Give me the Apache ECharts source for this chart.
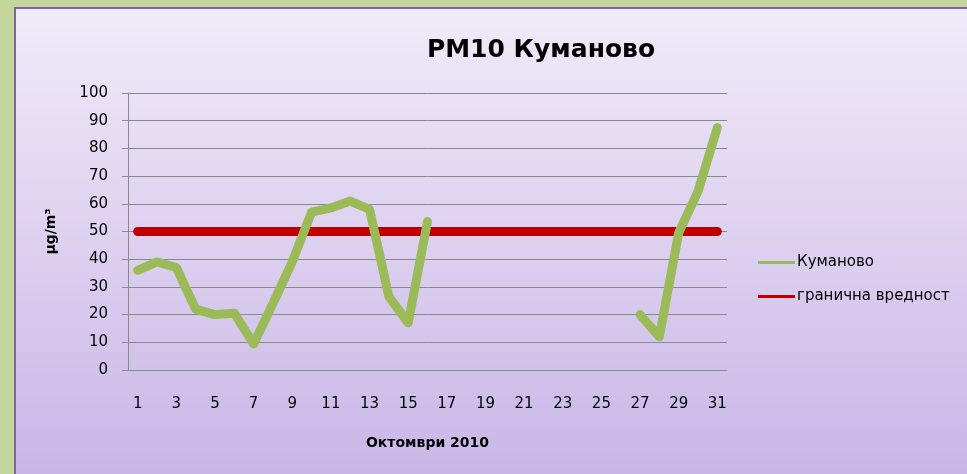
<!DOCTYPE html>
<html>
<head>
<meta charset="utf-8">
<script src="https://cdn.jsdelivr.net/npm/echarts@6/dist/echarts.min.js"></script>
<style>
  html, body { margin: 0; padding: 0; }
  #chart { width: 967px; height: 474px; }
</style>
</head>
<body>
<div id="chart"></div>
<script>
const days = ['1', '2', '3', '4', '5', '6', '7', '8', '9', '10', '11', '12', '13', '14', '15', '16',
  '17', '18', '19', '20', '21', '22', '23', '24', '25', '26', '27', '28', '29', '30', '31']
// Куманово PM10, days 17-26 have no measurements
const kumanovo = [36, 39, 37, 22, 20, 20.5, 9.4, 24, 39, 57, 58.5, 61, 58, 26.5, 17, 53.6,
  null, null, null, null, null, null, null, null, null, null,
  20, 12, 49.5, 64.5, 87.5]
const limitValue = [50, 50, 50, 50, 50, 50, 50, 50, 50, 50, 50, 50, 50, 50, 50, 50,
  50, 50, 50, 50, 50, 50, 50, 50, 50, 50, 50, 50, 50, 50, 50]

const font = 'DejaVu Sans'
const chart = echarts.init(document.getElementById('chart'))

chart.setOption({
  backgroundColor: '#C3D69B',
  textStyle: { fontFamily: font },
  graphic: {
    elements: [{
      type: 'rect',
      z: -10,
      silent: true,
      shape: { x: 15, y: 8, width: 960, height: 475 },
      style: {
        fill: new echarts.graphic.LinearGradient(0, 0, 0, 1, [
          { offset: 0, color: '#F1EBF9' },
          { offset: 1, color: '#C8B5E6' }
        ]),
        stroke: '#8064A2',
        lineWidth: 2
      }
    }]
  },
  title: {
    text: 'PM10 Куманово',
    left: 536,
    textAlign: 'center',
    top: 33,
    textStyle: { fontFamily: font, fontSize: 25, fontWeight: 'bold', color: '#000' }
  },
  legend: {
    orient: 'vertical',
    left: 753,
    top: 250,
    itemGap: 19,
    itemWidth: 37,
    itemHeight: 3,
    icon: 'rect',
    textStyle: { fontFamily: font, fontSize: 15, color: '#000', padding: [0, 0, 0, -3] },
    data: ['Куманово', 'гранична вредност']
  },
  grid: {
    left: 128,
    right: 240,
    top: 93,
    bottom: 104
  },
  xAxis: {
    type: 'category',
    data: days,
    name: 'Октомври 2010',
    nameLocation: 'middle',
    nameGap: 66,
    nameTextStyle: { fontFamily: font, fontSize: 14, fontWeight: 'bold', color: '#000' },
    axisLine: { lineStyle: { color: '#8A8A8A' } },
    axisTick: { interval: 0, length: 6, lineStyle: { color: '#8A8A8A' } },
    axisLabel: { interval: 1, margin: 27, fontSize: 15, color: '#000' }
  },
  yAxis: {
    type: 'value',
    min: 0,
    max: 100,
    interval: 10,
    name: 'μg/m³',
    nameLocation: 'middle',
    nameGap: 70,
    nameTextStyle: { fontFamily: font, fontSize: 14, fontWeight: 'bold', color: '#000' },
    axisLine: { show: true, lineStyle: { color: '#8A8A8A' } },
    axisTick: { show: true, length: 6, lineStyle: { color: '#8A8A8A' } },
    axisLabel: { margin: 20, fontSize: 15, color: '#000' },
    splitLine: { show: true, lineStyle: { color: '#8A8A8A', width: 1 } }
  },
  series: [
    {
      name: 'Куманово',
      type: 'line',
      data: kumanovo,
      color: '#9BBB59',
      showSymbol: false,
      connectNulls: false,
      lineStyle: { width: 9, cap: 'round', join: 'round' },
      z: 3
    },
    {
      name: 'гранична вредност',
      type: 'line',
      data: limitValue,
      color: '#C00000',
      showSymbol: false,
      lineStyle: { width: 9, cap: 'round', join: 'round' },
      z: 2
    }
  ],
  animation: false
})
</script>
</body>
</html>
